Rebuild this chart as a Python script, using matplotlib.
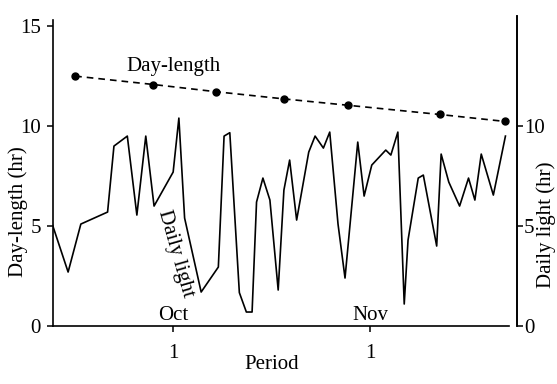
import matplotlib.pyplot as plt
import numpy as np

# days counted from 1 Oct (= 0); 1 Nov = 31
light_day = [-19.0, -16.5, -14.5, -10.3, -9.3, -7.2, -5.7, -4.3, -3.0, 0.0,
             0.9, 1.8, 4.4, 7.1, 8.0, 8.9, 10.4, 11.5, 12.4, 13.1,
             14.1, 15.2, 16.5, 17.4, 18.3, 19.4, 21.3, 22.3, 23.6, 24.6,
             25.9, 27.0, 29.0, 30.0, 31.2, 33.4, 34.2, 35.3, 36.3, 36.9,
             38.5, 39.3, 41.4, 42.1, 43.3, 45.0, 46.4, 47.4, 48.4, 50.3,
             52.2]
light_hr = [5.1, 2.7, 5.1, 5.7, 9.0, 9.5, 5.55, 9.5, 6.0, 7.7,
            10.4, 5.4, 1.7, 2.95, 9.5, 9.67, 1.67, 0.7, 0.7, 6.2,
            7.4, 6.3, 1.8, 6.8, 8.3, 5.3, 8.7, 9.5, 8.9, 9.7,
            5.1, 2.4, 9.2, 6.5, 8.05, 8.8, 8.55, 9.7, 1.1, 4.3,
            7.4, 7.55, 4.0, 8.6, 7.2, 6.0, 7.4, 6.3, 8.6, 6.55,
            9.5]

daylen_day = [-15.4, -3.1, 6.7, 17.4, 27.5, 41.9, 52.2]
daylen_hr = [12.50, 12.08, 11.72, 11.36, 11.04, 10.58, 10.23]

month_ticks = [0, 31]
month_labels = ["Oct", "Nov"]

plt.rcParams['font.family'] = ['Liberation Serif', 'DejaVu Serif']
fs = 15

fig = plt.figure(figsize=(5.57, 3.84), dpi=100)
ax = fig.add_axes([0.096, 0.151, 0.832, 0.807])

ax.plot(light_day, light_hr, color='black', lw=1.2)
ax.plot(daylen_day, daylen_hr, color='black', lw=1.2, ls=(0, (4, 3)),
        marker='o', ms=5)

ax.set_xlim(-18.8, 54.0)
ax.set_ylim(0, 15.5)
ax.spines['top'].set_visible(False)
ax.spines['left'].set_bounds(0, 15.3)
ax.spines['bottom'].set_bounds(-18.8, 52.7)
for s in ['left', 'right', 'bottom']:
    ax.spines[s].set_linewidth(1.2)

ax.set_yticks([0, 5, 10, 15])
ax.set_xticks(month_ticks)
ax.set_xticklabels(["1", "1"])
ax.tick_params(labelsize=fs, length=4, width=1.1, direction='out', pad=5)
ax.tick_params(axis='x', pad=9)
ax.set_xlabel("Period", fontsize=fs, va='top')
ax.xaxis.set_label_coords(0.471, -0.094)
ax.set_ylabel("Day-length (hr)", fontsize=fs)
ax.yaxis.set_label_coords(-0.055, 0.368)

ax2 = ax.twinx()
ax2.set_ylim(0, 15.5)
ax2.set_yticks([0, 5, 10])
ax2.tick_params(labelsize=fs, length=4, width=1.1, direction='out', pad=1)
for s in ['top', 'left', 'bottom']:
    ax2.spines[s].set_visible(False)
ax2.spines['right'].set_linewidth(1.2)
ax2.set_ylabel("Daily light (hr)", fontsize=fs)
ax2.yaxis.set_label_coords(1.041, 0.326)

for d, name in zip(month_ticks, month_labels):
    ax.text(d, 0.3, name, ha='center', va='baseline', fontsize=fs)

ax.text(0, 12.75, "Day-length", ha='center', va='baseline', fontsize=fs)
ax.text(0.3, 3.6, "Daily light", ha='center', va='center', fontsize=fs,
        rotation=-74)

fig.savefig("out.png", dpi=100)
